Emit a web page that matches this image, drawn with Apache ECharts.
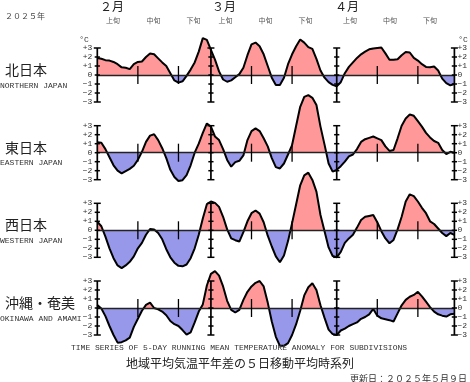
<!DOCTYPE html>
<html><head><meta charset="utf-8">
<script src="https://cdn.jsdelivr.net/npm/echarts@6/dist/echarts.min.js"></script>
<style>html,body{margin:0;padding:0;background:#fff}#c{width:470px;height:382px}</style>
</head><body><div id="c"></div>
<script>
// ---- data ----
const monthNames = ['２月', '３月', '４月'];
const monthDays = [28, 31, 30];
const decadeNames = ['上旬', '中旬', '下旬'];
const regionNames = ['北日本', '東日本', '西日本', '沖縄・奄美'];
const regionNamesEn = ['NORTHERN JAPAN', 'EASTERN JAPAN', 'WESTERN JAPAN', 'OKINAWA AND AMAMI'];
const yTicks = [3, 2, 1, 0, -1, -2, -3];
const yTickLabels = ['+3', '+2', '+1', '0', '−1', '−2', '−3'];
const monthAxisDays = [0, 28, 59, 88];      // Feb 1, Mar 1, Apr 1, Apr 30 (category index)
const decadeTickDays = [10, 20, 38, 48, 69, 79];

const northern = [1.9,1.8,1.65,1.6,1.45,1.2,0.85,0.8,0.65,1.2,1.45,1.5,2.0,2.4,2.3,1.85,1.4,1.0,0.2,-0.6,
 -0.85,-0.7,-0.1,0.6,1.4,2.6,4.1,3.9,2.8,1.7,0.4,-0.5,-0.75,-0.6,-0.25,0.1,0.8,2.2,3.4,3.6,
 3.2,2.3,1.0,-0.3,-1.1,-1.1,-0.3,1.2,2.3,3.2,3.95,3.6,3.1,2.9,1.8,0.5,-0.3,-0.8,-1.1,-1.25,
 -0.8,0.2,0.9,1.4,1.9,2.3,2.6,2.85,2.95,3.0,3.05,2.4,1.7,1.7,1.75,2.2,2.55,2.5,1.9,1.6,
 1.2,0.9,0.85,0.95,0.5,-0.4,-0.9,-1.15,-1.0];
const eastern = [1.15,1.1,0.4,-0.5,-1.4,-2.0,-2.3,-2.05,-1.8,-1.45,-0.8,0.1,1.2,1.9,2.05,1.4,0.5,-0.6,-1.9,-2.7,
 -3.15,-3.05,-2.5,-1.4,0.0,1.0,2.2,3.25,2.9,1.8,1.4,0.4,-0.8,-1.55,-1.05,-0.9,-0.3,1.4,2.4,2.7,
 2.4,1.6,0.7,-0.6,-1.6,-1.75,-1.2,-0.2,0.85,3.0,5.1,6.2,6.4,6.1,5.3,2.9,0.9,-1.2,-2.1,-1.9,
 -1.5,-1.0,-0.4,-0.2,0.4,1.2,1.5,1.65,1.8,1.6,1.4,0.7,0.2,0.3,1.6,3.0,3.8,4.25,4.1,3.5,
 2.9,2.2,1.7,1.3,1.1,0.3,-0.15,0.1,0.0];
const western = [0.95,0.45,-0.7,-2.0,-3.1,-3.9,-4.2,-3.9,-3.5,-2.9,-2.0,-1.4,-0.5,0.15,0.1,-0.3,-1.0,-2.1,-3.0,-3.6,
 -3.95,-4.0,-3.8,-3.1,-2.0,-0.5,1.3,2.9,3.2,3.05,2.6,1.5,0.1,-0.9,-1.1,-1.25,-0.2,1.0,1.9,2.2,
 1.85,0.9,-0.6,-1.8,-2.9,-3.55,-2.8,-1.2,0.8,2.9,5.0,6.1,6.4,5.6,4.3,1.7,-0.1,-1.9,-2.85,-3.0,
 -2.4,-1.4,-0.9,-0.5,0.3,1.15,1.5,1.6,1.7,0.9,-0.1,-0.9,-1.44,-1.07,0.1,1.5,3.2,4.0,3.8,3.2,
 2.5,1.9,1.0,0.7,0.2,-0.3,-0.65,-0.3,-0.5];
const okinawa = [0.33,-0.05,-0.9,-2.0,-3.0,-3.85,-3.8,-3.6,-3.3,-2.1,-1.2,-0.3,0.35,0.6,0.0,-0.15,-0.4,-0.8,-1.45,-1.8,
 -2.0,-2.45,-2.95,-2.7,-1.6,-0.4,0.4,2.5,3.8,4.1,3.6,2.4,0.8,-0.2,-0.5,-0.2,0.9,1.8,2.4,2.8,
 3.0,2.4,0.6,-1.5,-3.2,-4.2,-4.2,-3.9,-3.0,-1.8,-0.3,1.4,2.3,2.75,2.0,0.3,-1.1,-2.4,-2.9,-3.0,
 -2.5,-2.3,-2.0,-1.8,-1.6,-1.2,-1.0,-0.7,-0.1,-0.85,-1.15,-1.25,-1.35,-1.5,-0.6,0.3,0.9,1.25,1.45,1.8,
 1.3,0.7,0.1,-0.4,-0.7,-0.85,-0.95,-0.7,-0.65];
const regionValues = [northern, eastern, western, okinawa];

// ---- categories (dates) ----
const categories = [];
monthDays.forEach((n, m) => { for (let d = 1; d <= n; d++) categories.push((m + 2) + '/' + d); });

// ---- styling ----
const POS = '#ff9898', NEG = '#9898ea';
const MONO = '"Liberation Mono","DejaVu Sans Mono",monospace';
const JP = '"Noto Sans CJK JP","Noto Sans CJK SC",sans-serif';
const gridTops = [48, 125.7, 203.3, 281];
const GH = 54, GL = 97.3, GW = 359;

const grids = [], xAxes = [], yAxes = [], series = [], visualMaps = [];
gridTops.forEach((t, i) => {
  grids.push({ left: GL, top: t, width: GW, height: GH, containLabel: false });
  xAxes.push({ type: 'category', gridIndex: i, data: categories, boundaryGap: false, z: 5,
    axisLine: { onZero: true, lineStyle: { color: '#222', width: 1.4 } },
    axisTick: { show: false }, axisLabel: { show: false }, splitLine: { show: false } });
  const lab = { fontFamily: MONO, fontSize: 8, color: '#333',
    formatter: v => yTickLabels[yTicks.indexOf(v)] };
  yAxes.push({ type: 'value', gridIndex: i, min: -3, max: 3, interval: 1, position: 'left',
    axisLine: { show: false }, axisTick: { show: false }, splitLine: { show: false },
    axisLabel: Object.assign({ margin: 5 }, lab) });
  yAxes.push({ type: 'value', gridIndex: i, min: -3, max: 3, interval: 1, position: 'right',
    axisLine: { show: false }, axisTick: { show: false }, splitLine: { show: false },
    axisLabel: Object.assign({ margin: 3 }, lab) });
});
regionValues.forEach((vals, i) => {
  series.push({ type: 'line', xAxisIndex: i, yAxisIndex: 2 * i, data: vals, clip: false,
    showSymbol: false, symbol: 'none', smooth: false, z: 2,
    lineStyle: { color: '#000', width: 2 }, areaStyle: { opacity: 1 } });
  visualMaps.push({ type: 'piecewise', show: false, seriesIndex: i, dimension: 1,
    pieces: [{ gte: -20, lt: 0, color: NEG }, { gte: 0, lte: 20, color: POS }] });
});
regionValues.forEach((vals, i) => {
  series.push({ type: 'custom', xAxisIndex: i, yAxisIndex: 2 * i, z: 6, clip: false,
    data: monthAxisDays.map(d => [d, 0]),
    renderItem: (params, api) => {
      const x = api.value(0);
      const a = api.coord([x, 3]), b = api.coord([x, -3]);
      const ch = [{ type: 'line', shape: { x1: a[0], y1: a[1], x2: b[0], y2: b[1] },
        style: { stroke: '#000', lineWidth: 1.7 } }];
      yTicks.forEach(v => {
        const p = api.coord([x, v]);
        const w = (Math.abs(v) === 3) ? 3.5 : 2.6;
        ch.push({ type: 'line', shape: { x1: p[0] - w, y1: p[1], x2: p[0] + w, y2: p[1] },
          style: { stroke: '#000', lineWidth: 1.5 } });
      });
      return { type: 'group', children: ch };
    } });
  series.push({ type: 'custom', xAxisIndex: i, yAxisIndex: 2 * i, z: 6, clip: false,
    data: decadeTickDays.map(d => [d, 0]),
    renderItem: (params, api) => {
      const x = api.value(0);
      const a = api.coord([x, 1]), b = api.coord([x, -1]);
      return { type: 'line', shape: { x1: a[0], y1: a[1], x2: b[0], y2: b[1] },
        style: { stroke: '#000', lineWidth: 1.3 } };
    } });
});

// ---- texts ----
const graphics = [];
const txt = (x, y, text, size, font, color, align) => graphics.push({ type: 'text', x, y,
  style: { text, fontSize: size, fontFamily: font, fill: color, textAlign: align || 'left', textVerticalAlign: 'middle' }, z: 10 });
txt(5, 16, '２０２５年', 8, JP, '#444');
const monthX = [100, 212, 335];
monthNames.forEach((m, k) => txt(monthX[k], 6, m, 12, JP, '#222'));
const decadeCenters = [113, 153.5, 193.5, 225.5, 265.5, 305.5, 350, 390, 430];
decadeCenters.forEach((c, k) => txt(c, 20, decadeNames[k % 3], 7, JP, '#555', 'center'));
const zeros = gridTops.map(t => t + GH / 2);
regionNames.forEach((n, i) => {
  txt(5, zeros[i] - 5.5, n, 14, JP, '#222');
  txt(0, zeros[i] + 10.5, regionNamesEn[i], 8, MONO, '#333');
});
txt(84, 40, '°C', 8, MONO, '#333', 'center');
txt(463, 40, '°C', 8, MONO, '#333', 'center');
txt(239, 347.5, 'TIME SERIES OF 5-DAY RUNNING MEAN TEMPERATURE ANOMALY FOR SUBDIVISIONS', 8, MONO, '#333', 'center');
txt(240, 363, '地域平均気温平年差の５日移動平均時系列', 12, JP, '#222', 'center');
txt(467, 378.5, '更新日：２０２５年５月９日', 9, JP, '#333', 'right');

const chart = echarts.init(document.getElementById('c'), null, { renderer: 'canvas' });
chart.setOption({
  backgroundColor: '#fff', animation: false,
  grid: grids, xAxis: xAxes, yAxis: yAxes, visualMap: visualMaps, series, graphic: graphics
});
</script></body></html>
